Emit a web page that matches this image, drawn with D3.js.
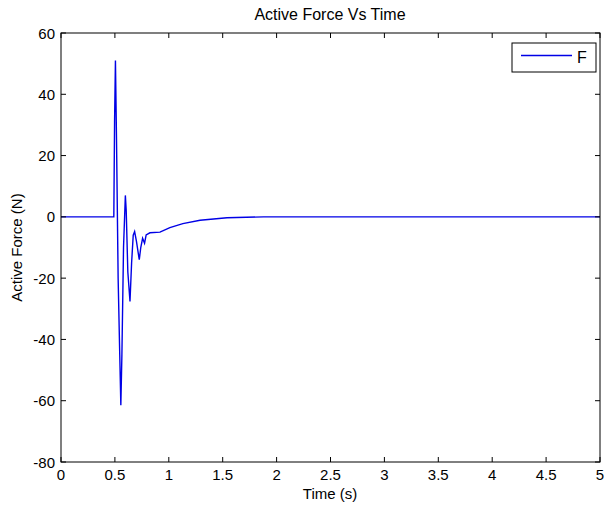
<!DOCTYPE html>
<html>
<head>
<meta charset="utf-8">
<script src="https://cdn.jsdelivr.net/npm/d3@7"></script>
<style>
  body { margin: 0; background: #fff; }
  text { font-family: "Liberation Sans", Arial, sans-serif; fill: #000; }
</style>
</head>
<body>
<svg width="604" height="508"></svg>
<script>
// time samples (s) and active force (N)
var time = [0, 0.49, 0.497, 0.505, 0.515, 0.53, 0.545, 0.555, 0.565, 0.58, 0.597, 0.605,
            0.62, 0.64, 0.655, 0.67, 0.683, 0.7, 0.726, 0.74, 0.757, 0.775, 0.79, 0.825,
            0.918, 1.01, 1.13, 1.29, 1.54, 1.88, 5];
var force = [0, 0, 31, 51, 25, -20, -45, -61.5, -45, -10, 7, 2,
             -18, -27.6, -15, -6, -4.8, -8, -14, -10, -7, -8.6, -5.9, -5.2,
             -5.0, -3.5, -2.2, -1.1, -0.3, 0, 0];

var xTicks = [0, 0.5, 1, 1.5, 2, 2.5, 3, 3.5, 4, 4.5, 5];
var yTicks = [60, 40, 20, 0, -20, -40, -60, -80];

var svg = d3.select("svg");
var pLeft = 61, pRight = 600, pTop = 33, pBottom = 462;

var x = d3.scaleLinear().domain([0, 5]).range([pLeft, pRight]);
var y = d3.scaleLinear().domain([-80, 60]).range([pBottom, pTop]);

var g = svg.append("g");

// line
var line = d3.line()
  .x(function(d, i) { return x(time[i]); })
  .y(function(d) { return y(d); });

g.append("path")
  .attr("d", line(force))
  .attr("fill", "none")
  .attr("stroke", "#0000e6")
  .attr("stroke-width", 1.4);

// box
g.append("rect")
  .attr("x", pLeft).attr("y", pTop)
  .attr("width", pRight - pLeft).attr("height", pBottom - pTop)
  .attr("fill", "none").attr("stroke", "#000").attr("stroke-width", 1);

// inward ticks on all four sides
var tl = 5;
xTicks.forEach(function(t) {
  g.append("line").attr("x1", x(t)).attr("x2", x(t)).attr("y1", pBottom).attr("y2", pBottom - tl).attr("stroke", "#000");
  g.append("line").attr("x1", x(t)).attr("x2", x(t)).attr("y1", pTop).attr("y2", pTop + tl).attr("stroke", "#000");
  g.append("text").attr("x", x(t)).attr("y", pBottom + 18)
    .attr("text-anchor", "middle").attr("font-size", 15).text(t);
});
yTicks.forEach(function(v) {
  g.append("line").attr("x1", pLeft).attr("x2", pLeft + tl).attr("y1", y(v)).attr("y2", y(v)).attr("stroke", "#000");
  g.append("line").attr("x1", pRight).attr("x2", pRight - tl).attr("y1", y(v)).attr("y2", y(v)).attr("stroke", "#000");
  g.append("text").attr("x", pLeft - 6).attr("y", y(v) + 5.5)
    .attr("text-anchor", "end").attr("font-size", 15).text(v);
});

// titles
svg.append("text").attr("x", 330).attr("y", 20)
  .attr("text-anchor", "middle").attr("font-size", 16).text("Active Force Vs Time");
svg.append("text").attr("x", 330).attr("y", 499)
  .attr("text-anchor", "middle").attr("font-size", 15).text("Time (s)");
svg.append("text").attr("transform", "translate(22," + ((pTop + pBottom) / 2) + ") rotate(-90)")
  .attr("text-anchor", "middle").attr("font-size", 15).text("Active Force (N)");

// legend
var lg = svg.append("g");
lg.append("rect").attr("x", 512).attr("y", 43).attr("width", 84).attr("height", 29)
  .attr("fill", "#fff").attr("stroke", "#000");
lg.append("line").attr("x1", 521).attr("x2", 572).attr("y1", 55.5).attr("y2", 55.5)
  .attr("stroke", "#0000e6").attr("stroke-width", 1.4);
lg.append("text").attr("x", 577).attr("y", 63).attr("font-size", 16).text("F");
</script>
</body>
</html>
